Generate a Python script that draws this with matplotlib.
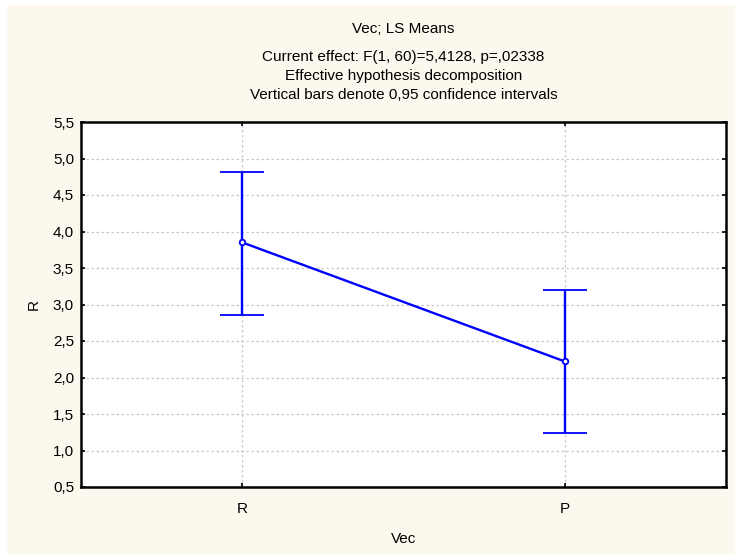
import matplotlib
matplotlib.use("Agg")
import matplotlib.pyplot as plt
from matplotlib.patches import Rectangle

# LS means of R by level of Vec, with 0.95 confidence limits
levels = ["R", "P"]
means = [3.85, 2.22]
ci_low = [2.85, 1.24]
ci_high = [4.81, 3.20]

y_ticks = [0.5, 1.0, 1.5, 2.0, 2.5, 3.0, 3.5, 4.0, 4.5, 5.0, 5.5]
y_tick_labels = ["0,5", "1,0", "1,5", "2,0", "2,5", "3,0", "3,5", "4,0", "4,5", "5,0", "5,5"]

title_lines = [
    "Current effect: F(1, 60)=5,4128, p=,02338",
    "Effective hypothesis decomposition",
    "Vertical bars denote 0,95 confidence intervals",
]

plt.rcParams["font.family"] = ["Liberation Sans", "DejaVu Sans"]
FS = 11

W, H = 735, 554
fig = plt.figure(figsize=(W / 100, H / 100), dpi=100)
fig.patch.set_facecolor("white")
fig.patches.append(Rectangle((7 / W, 0), 1 - 7 / W, 1 - 5 / H,
                             transform=fig.transFigure, facecolor="#fdf8ee",
                             edgecolor="none", zorder=-5))

ax = fig.add_axes([81 / W, 1 - 487 / H, (726 - 81) / W, (487 - 122) / H])
ax.set_facecolor("white")

x = list(range(len(levels)))
err_low = [m - l for m, l in zip(means, ci_low)]
err_high = [h - m for m, h in zip(means, ci_high)]
ax.errorbar(x, means, yerr=[err_low, err_high], color="#0000ff", lw=1.7,
            capsize=16, capthick=1.7, elinewidth=1.7, marker="o", ms=4,
            mfc="white", mec="#0000ff", mew=1.3, zorder=3)

ax.set_xlim(-0.5, 1.5)
ax.set_ylim(0.5, 5.5)
ax.set_xticks(x)
ax.set_xticklabels(levels)
ax.set_yticks(y_ticks)
ax.set_yticklabels(y_tick_labels)
ax.grid(True, color="#c8c8c8", linestyle=(0, (2, 2)), linewidth=0.9)
ax.set_axisbelow(True)

ax.tick_params(direction="in", length=3, width=1.2, top=True, right=True,
               labelsize=FS, colors="black")
ax.tick_params(axis="y", pad=5)
ax.tick_params(axis="x", pad=11)
for s in ax.spines.values():
    s.set_linewidth(1.8)
    s.set_color("black")

ax.set_xlabel("Vec", fontsize=FS, labelpad=11)
ax.set_ylabel("R", fontsize=FS, labelpad=9)

fig.text(403.5 / W, 1 - 29 / H, "Vec; LS Means", ha="center", va="center", fontsize=FS)
for i, line in enumerate(title_lines):
    fig.text(403.5 / W, 1 - (57 + 19 * i) / H, line, ha="center", va="center", fontsize=FS)

fig.savefig("out.png", dpi=100, facecolor=fig.get_facecolor())
